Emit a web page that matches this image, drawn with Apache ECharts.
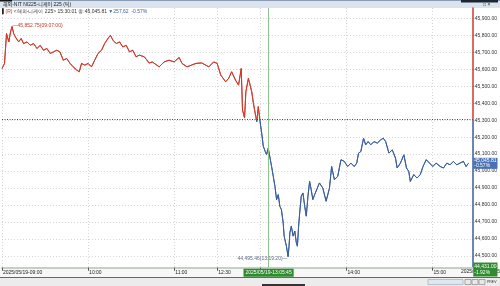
<!DOCTYPE html>
<html><head><meta charset="utf-8">
<script src="https://cdn.jsdelivr.net/npm/echarts@6/dist/echarts.min.js"></script>
<style>html,body{margin:0;padding:0;background:#fff}#c{width:500px;height:286px}</style>
</head><body><div id="c"></div>
<script>
// ---- data ----
const times = [
'09:00:00','09:01:45','09:03:10','09:04:45','09:05:55','09:07:00','09:08:10','09:09:20','09:10:30','09:11:35',
'09:13:20','09:15:05','09:17:25','09:19:40','09:22:00','09:24:25','09:26:35','09:28:55','09:31:20','09:33:30',
'09:35:50','09:38:10','09:40:25','09:42:40','09:45:05','09:47:25','09:49:35','09:52:00','09:53:50','09:55:25',
'09:57:40','10:00:00','10:02:20','10:04:35','10:06:55','10:09:20','10:11:30','10:13:50','10:15:30','10:17:20',
'10:19:35','10:21:55','10:24:10','10:26:30','10:28:50','10:31:05','10:33:25','10:35:40','10:39:10','10:42:35',
'10:44:40','10:49:30','10:53:00','10:56:25','10:59:55','11:03:25','11:05:25','11:08:55','11:15:05','11:19:10',
'11:24:05','11:27:30','11:29:55','12:32:25','12:35:50','12:37:55','12:40:00','12:42:40','12:44:50','12:46:40',
'12:47:35','12:49:00','12:49:55','12:51:40','12:54:00','12:55:10','12:56:50','12:57:30','12:58:35','12:59:50',
'13:00:55','13:02:05','13:03:10','13:04:20','13:05:30','13:06:40','13:07:50','13:09:00','13:10:10','13:11:20',
'13:12:30','13:13:35','13:14:40','13:15:55','13:16:35','13:18:10','13:19:20','13:20:00','13:20:35','13:21:35',
'13:22:50','13:24:00','13:25:05','13:25:50','13:26:40','13:27:25','13:28:30','13:29:40','13:30:55','13:32:00',
'13:33:10','13:34:20','13:35:25','13:36:35','13:37:50','13:38:55','13:41:10','13:43:30','13:45:50','13:48:10',
'13:49:40','13:51:35','13:53:55','13:56:10','13:58:30','14:00:50','14:03:05','14:05:25','14:07:10','14:08:25',
'14:10:00','14:11:55','14:13:25','14:15:05','14:16:55','14:19:10','14:21:30','14:23:50','14:25:40','14:27:20',
'14:29:35','14:31:55','14:34:10','14:35:20','14:37:35','14:40:00','14:41:50','14:43:25','14:44:30','14:46:55',
'14:49:10','14:51:25','14:53:20','14:55:35','14:57:55','15:00:10','15:02:30','15:05:20','15:07:35','15:09:55',
'15:12:10','15:14:30','15:16:50','15:19:05','15:21:30','15:23:20','15:25:00'];
const prices = [
45605,45635,45811,45762,45820,45852.75,45811,45791,45801,45762,
45782,45752,45762,45742,45752,45723,45742,45713,45723,45694,
45703,45713,45703,45654,45664,45635,45615,45596,45586,45635,
45625,45635,45615,45654,45694,45713,45752,45782,45801,45772,
45752,45762,45732,45742,45703,45713,45674,45684,45674,45637,
45644,45615,45644,45654,45644,45670,45635,45615,45635,45638,
45615,45644,45635,45566,45527,45547,45586,45537,45507,45605,
45360,45313,45468,45547,45468,45400,45321,45292,45380,45290,
45224,45145,45155,45096,45135,45125,45027,44969,44910,44832,
44861,44792,44773,44695,44616,44557,44495.46,44557,44636,44675,
44616,44646,44577,44557,44675,44754,44851,44871,44792,44734,
44851,44939,44890,44832,44861,44861,44930,44900,44822,44900,
45027,44949,44969,45067,45057,45027,45047,45027,45047,45106,
45115,45194,45155,45174,45155,45174,45165,45184,45194,45174,
45106,45125,45077,45018,45047,45096,45018,44998,44939,44979,
44959,44979,45027,45067,45047,45027,45047,45027,45018,45047,
45037,45057,45037,45047,45057,45027,45045.81];
const yTicks = [44500,44600,44700,44800,44900,45000,45100,45200,45300,45400,45500,45600,45700,45800,45900];
const xTickTimes = ['09:00:00','10:00:00','11:00:00','12:30:00','13:00:00','14:00:00','15:00:00'];
const xTickLabels = ['2025/05/19-09:00','10:00','11:00','12:30','13:00','14:00','15:00'];
const prevClose = 45303.43;
const lastPrice = 45045.81;
const lastChange = '-0.57%';
const highPoint = {time:'09:07:00', price:45852.75};
const lowPoint = {time:'13:19:20', price:44495.46};
const cursorTime = '13:05:45';
const cursorPrice = 44431.00, cursorChange = '-1.92%';

// trading minutes (lunch break 11:30-12:30 removed)
function tm(s){const p=s.split(':').map(Number);let m=p[0]*60+p[1]+(p[2]||0)/60-540;if(m>=210)m-=60;return m;}
const fmt = v => v.toLocaleString('en-US',{minimumFractionDigits:2,maximumFractionDigits:2});

const RED='#d1392b', BLUE='#3a5e9c';
const yMin=44430, yMax=45962;
const FONT='Liberation Sans, Noto Sans CJK KR, sans-serif';
const chart = echarts.init(document.getElementById('c'), null, {renderer:'canvas'});
const xTicks = xTickTimes.map(tm);
chart.setOption({
  animation:false,
  backgroundColor:'#fff',
  grid:{left:1.5,right:23.5,top:8,bottom:18.3},
  xAxis:{type:'value',min:0,max:328,
    axisLine:{show:true,onZero:false,lineStyle:{color:'#c3d1c3',width:2}},
    axisTick:{show:true,customValues:xTicks,length:3,lineStyle:{color:'#555'}},
    axisLabel:{customValues:xTicks,align:'left',padding:[0,0,0,1],margin:2,fontSize:5,color:'#222',fontFamily:FONT,
      formatter:v=>{const i=xTicks.findIndex(t=>Math.abs(t-v)<1e-6);return i>=0?xTickLabels[i]:'';}},
    splitLine:{show:true,lineStyle:{color:'#d6d6d6',type:[1,2],width:1}}
  },
  yAxis:{type:'value',position:'right',min:yMin,max:yMax,
    axisLine:{show:true,onZero:false,lineStyle:{width:1.5,color:'#888'}},
    axisTick:{show:true,customValues:yTicks,length:1.5,lineStyle:{color:'#777'}},
    axisLabel:{customValues:yTicks,margin:2,fontSize:5,color:'#333',fontFamily:FONT,formatter:v=>fmt(v)},
    splitLine:{show:true,lineStyle:{color:'#d6d6d6',type:[1,2],width:1}}
  },
  series:[{
    type:'line',showSymbol:false,symbol:'none',
    data:times.map((t,i)=>[tm(t),prices[i]]),
    lineStyle:{width:1,color:BLUE},
    markLine:{silent:true,symbol:['none','none'],animation:false,
      data:[
        {yAxis:prevClose,lineStyle:{type:[1,1.5],color:'#444',width:1},label:{show:false}},
        {xAxis:tm(cursorTime),lineStyle:{type:'solid',color:'#8fc08f',width:1},
          label:{show:true,position:'start',distance:1,formatter:'2025/05/19-'+cursorTime,backgroundColor:'#2e8b2e',color:'#fff',padding:[1.5,2],fontSize:5,fontFamily:FONT}},
        {yAxis:lastPrice,lineStyle:{color:'rgba(0,0,0,0)',width:0},
          label:{show:true,position:'end',distance:0.5,formatter:fmt(lastPrice)+'\n'+lastChange,align:'left',lineHeight:5,backgroundColor:'#4a72b2',color:'#fff',padding:[0.5,1],fontSize:5,fontFamily:FONT}},
        {yAxis:cursorPrice,lineStyle:{color:'rgba(0,0,0,0)',width:0},
          label:{show:true,position:'end',distance:0.5,offset:[0,2],formatter:fmt(cursorPrice)+'\n'+cursorChange,align:'left',lineHeight:6,backgroundColor:'#2e8b2e',color:'#fff',padding:[1,1],fontSize:5,fontFamily:FONT}}
      ]},
    markPoint:{silent:true,animation:false,symbol:'circle',symbolSize:1,itemStyle:{color:'rgba(0,0,0,0)'},
      data:[
        {coord:[tm(highPoint.time),highPoint.price],label:{show:true,position:'right',distance:0,offset:[0,-1],
          formatter:'—'+fmt(highPoint.price)+'('+highPoint.time+')',color:'#c0392b',fontSize:5,fontFamily:FONT}},
        {coord:[tm(lowPoint.time),lowPoint.price],label:{show:true,position:'left',distance:0,offset:[0,2],
          formatter:fmt(lowPoint.price)+'('+lowPoint.time+')—',color:'#5b6b88',fontSize:5,fontFamily:FONT}}
      ]}
  }],
  graphic:[
    {type:'rect',z:-10,shape:{x:0,y:0,width:500,height:8},style:{fill:'#dbe4ee'}},
    {type:'rect',z:-9,shape:{x:0,y:0,width:500,height:0.8},style:{fill:'#6f86a0'}},
    {type:'rect',z:-9,shape:{x:0,y:0,width:12,height:1.5},style:{fill:'#111'}},
    {type:'rect',z:-9,shape:{x:461,y:0,width:37,height:2.5},style:{fill:'#1c2733'}},
    {type:'text',z:-8,x:483,y:2.2,style:{text:'□ ×',fontSize:5,fill:'#333',fontFamily:FONT}},
    {type:'text',z:-8,x:3,y:1.8,style:{text:'해외-NIT NI225-니케이 225 (틱)',fontSize:5,fill:'#222',fontFamily:FONT}},
    {type:'text',z:1,x:2,y:8.8,style:{text:'{a|▌}{r|(R)} {k|<해외-니케이 225> 15:30:01 종:45,045.81} {b|▼257.62  -0.57%}',
      fontSize:5,fontFamily:FONT,rich:{a:{fill:'#222',fontSize:5},r:{fill:'#c0392b',fontSize:5},k:{fill:'#333',fontSize:5},b:{fill:'#3a5e9c',fontSize:5}}}},
    {type:'rect',z:-10,shape:{x:0,y:267.7,width:477,height:9.3},style:{fill:'#f6f7f6'}},
    {type:'rect',z:-9,shape:{x:0,y:277,width:500,height:1},style:{fill:'#666'}},
    {type:'rect',z:-10,shape:{x:0,y:278,width:500,height:8},style:{fill:'#ececec'}},
    {type:'rect',z:-9,shape:{x:262,y:284,width:43,height:2},style:{fill:'#333'}},
    {type:'rect',z:-9,shape:{x:428,y:279.5,width:35,height:5},style:{fill:'#dfe6ee',stroke:'#8a9bb0',lineWidth:0.5}},
    {type:'rect',z:-9,shape:{x:465,y:279.5,width:6,height:5},style:{fill:'#e8e8e8',stroke:'#666',lineWidth:0.5}},
    {type:'rect',z:-9,shape:{x:472,y:279.5,width:6,height:5},style:{fill:'#e8e8e8',stroke:'#666',lineWidth:0.5}},
    {type:'rect',z:-9,shape:{x:479,y:279.5,width:6,height:5},style:{fill:'#e8e8e8',stroke:'#666',lineWidth:0.5}},
    {type:'text',z:-8,x:487,y:280,style:{text:'PREV',fontSize:3.5,fill:'#333',fontFamily:FONT}},
    {type:'text',z:1,x:461,y:269.3,style:{text:'2025/05/19 15:25:00',fontSize:5,fill:'#222',fontFamily:FONT}}
  ]
});
// red above the previous close, blue below: split colour at the scale position of prevClose
const yPC = chart.convertToPixel({yAxisIndex:0}, prevClose);
const H = chart.getHeight();
const split = yPC / H;
const grad = () => new echarts.graphic.LinearGradient(0,0,0,H,[
  {offset:0,color:RED},{offset:split,color:RED},{offset:split,color:BLUE},{offset:1,color:BLUE}], true);
chart.setOption({
  yAxis:{axisLine:{lineStyle:{color:grad()}}},
  series:[{lineStyle:{color:grad()}}]
});
</script></body></html>
